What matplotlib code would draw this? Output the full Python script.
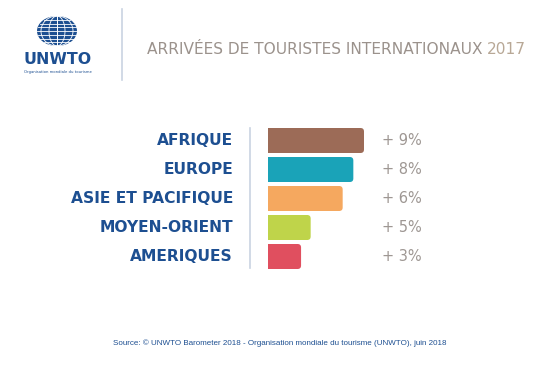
import matplotlib
matplotlib.use("Agg")
import matplotlib.pyplot as plt
from matplotlib.patches import FancyBboxPatch, Rectangle, Ellipse
from matplotlib.lines import Line2D
from matplotlib import font_manager
import numpy as np

# ---- data ----
categories = ["AFRIQUE", "EUROPE", "ASIE ET PACIFIQUE", "MOYEN-ORIENT", "AMERIQUES"]
bar_lengths = [9.0, 8.0, 7.0, 4.0, 3.1]
pct_labels = ["+ 9%", "+ 8%", "+ 6%", "+ 5%", "+ 3%"]
bar_colors = ["#9c6b57", "#1aa3b8", "#f5a85f", "#bfd44a", "#e04f5f"]
title_main = "ARRIVÉES DE TOURISTES INTERNATIONAUX "
title_year = "2017"
source_text = "Source: © UNWTO Barometer 2018 - Organisation mondiale du tourisme (UNWTO), juin 2018"

W, H = 544, 371
fig = plt.figure(figsize=(W / 100, H / 100), dpi=100)
fig.patch.set_facecolor("white")

def fx(px):
    return px / W

def fy(py):
    return 1 - py / H

# look for a condensed family if one is installed
cond = [f for f in font_manager.fontManager.ttflist
        if ("narrow" in f.name.lower() or "condensed" in f.name.lower()
            or "condensed" in str(f.stretch).lower())]
if cond:
    NARROW = [cond[0].name, "DejaVu Sans"]
else:
    NARROW = ["Roboto", "DejaVu Sans"]

BLUE = "#1d4f91"
renderer = fig.canvas.get_renderer()

def fit(txt, width_px, max_size):
    t = txt
    t.set_fontsize(10)
    w = t.get_window_extent(renderer=renderer).width
    s = min(max_size, 10 * width_px / w)
    t.set_fontsize(s)
    return s

# ---- bars axes ----
ax_left, ax_top, ax_w, ax_h = 268, 126, 200, 145
ax = fig.add_axes([fx(ax_left), fy(ax_top + ax_h), ax_w / W, ax_h / H])
px_per_unit = 96 / 9.0
ax.set_xlim(0, ax_w / px_per_unit)
ax.set_ylim(len(categories) - 0.5, -0.5)
ax.axis("off")

ypos = np.arange(len(categories))
bh = 25 / 29
rx = 3.5 / px_per_unit
ry = 3.5 / 29
for y, L, c in zip(ypos, bar_lengths, bar_colors):
    p = FancyBboxPatch((0, y - bh / 2), L, bh,
                       boxstyle=f"round,pad=0,rounding_size={rx}",
                       mutation_aspect=ry / rx, fc=c, ec="none")
    ax.add_patch(p)
    ax.add_patch(Rectangle((0, y - bh / 2), L / 2, bh, fc=c, ec="none"))

cat_texts = []
for y, cat in zip(ypos, categories):
    cat_texts.append(ax.text(-35 / px_per_unit, y, cat, ha="right", va="center",
                             fontsize=13, fontweight="bold", color=BLUE, family=NARROW))
s = fit(cat_texts[2], 164, 16)
for t in cat_texts:
    t.set_fontsize(s)

pct_texts = []
for y, lab in zip(ypos, pct_labels):
    pct_texts.append(ax.text(114 / px_per_unit, y, lab, ha="left", va="center",
                             fontsize=13, color="#9e9793", family=NARROW))
s = fit(pct_texts[0], 40, 16)
for t in pct_texts:
    t.set_fontsize(s)

# separator near bars
fig.add_artist(Line2D([fx(250), fx(250)], [fy(128), fy(268)], color="#c9d3e2", lw=1.2))

# ---- header ----
fig.add_artist(Line2D([fx(122), fx(122)], [fy(9), fy(80)], color="#c9d3e2", lw=1.2))
t1 = fig.text(fx(147), fy(50), title_main + title_year, ha="left", va="center",
              fontsize=15.5, color="#9b928c", family=NARROW, fontweight="medium")
ts = fit(t1, 378, 20)
t1.set_text(title_main)
fig.canvas.draw()
bb = t1.get_window_extent(renderer=renderer)
fig.text(bb.x1 / W, fy(50), title_year, ha="left", va="center",
         fontsize=ts, color="#b8a896", family=NARROW, fontweight="medium")

# logo globe
gx, gy, gw, gh = 57, 31, 40, 30
gax = fig.add_axes([fx(gx - gw / 2), fy(gy + gh / 2), gw / W, gh / H])
gax.set_xlim(-1, 1); gax.set_ylim(-1, 1); gax.axis("off")
gax.add_patch(Ellipse((0, 0), 2, 2, fc=BLUE, ec="none"))
for lat in np.linspace(-0.75, 0.75, 7):
    half = np.sqrt(1 - lat ** 2)
    gax.plot([-half, half], [lat, lat], color="white", lw=0.6)
tt = np.linspace(-1, 1, 60)
for k in np.linspace(-0.8, 0.8, 5):
    gax.plot(k * np.sqrt(1 - tt ** 2), tt, color="white", lw=0.6)
gax.plot([0, 0], [-1, 1], color="white", lw=0.6)

u = fig.text(fx(58), fy(59), "UNWTO", ha="center", va="center",
             fontsize=15, fontweight="bold", color=BLUE, family=NARROW)
fit(u, 68, 16)
o = fig.text(fx(58), fy(72), "Organisation mondiale du tourisme", ha="center", va="center",
             fontsize=3.2, color=BLUE, family=NARROW)
fit(o, 66, 5)

# ---- source ----
src = fig.text(fx(280), fy(343), source_text, ha="center", va="center",
               fontsize=5.2, color=BLUE, family=["Liberation Sans", "DejaVu Sans"])
fit(src, 334, 8)

fig.savefig("out.png", dpi=100, facecolor="white")
